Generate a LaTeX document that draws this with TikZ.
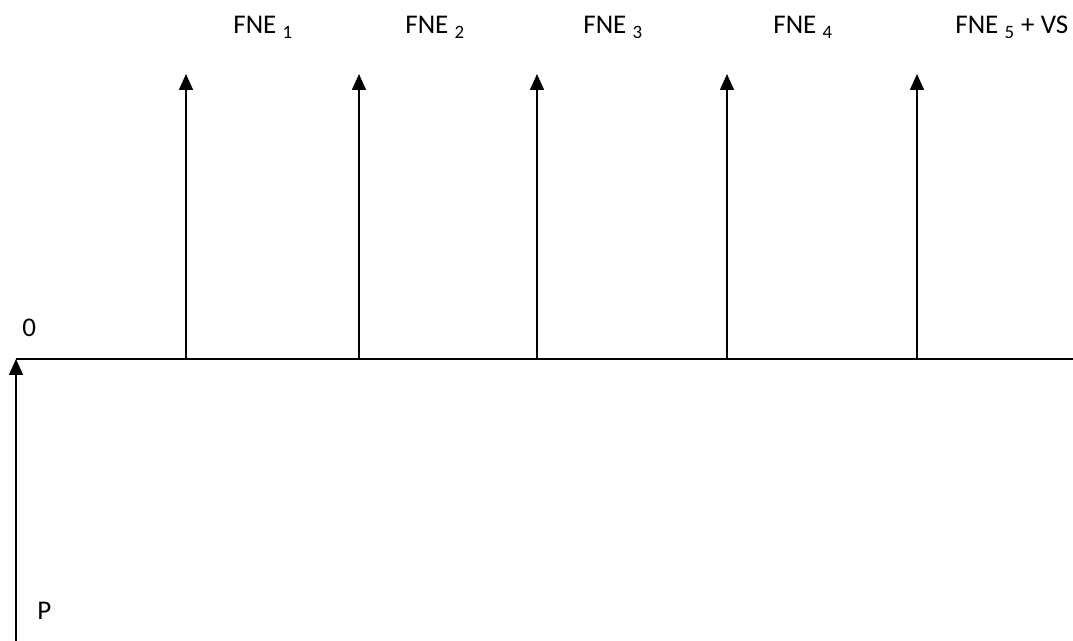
\documentclass[tikz,border=0pt]{standalone}
\usepackage{fontspec}
\setmainfont{Carlito}
\usetikzlibrary{arrows.meta}

\begin{document}
\begin{tikzpicture}[x=0.5pt, y=-0.5pt,
    flow/.style={draw, line width=0.75pt, -{Triangle[width=7pt,length=8pt]}},
    lbl/.style={anchor=base west, inner sep=0pt, font=\fontsize{13.5}{15}\selectfont}]
    \useasboundingbox (0,0) rectangle (1073,641);

    \coordinate (start) at (16,359);
    \coordinate (end) at (1073,359);
    \coordinate (p0) at (16,641);
    \coordinate (t1) at (186,359);
    \coordinate (t2) at (359,359);
    \coordinate (t3) at (537,359);
    \coordinate (t4) at (727,359);
    \coordinate (t5) at (917,359);
    \coordinate (f1) at (186,74);
    \coordinate (f2) at (359,74);
    \coordinate (f3) at (537,74);
    \coordinate (f4) at (727,74);
    \coordinate (f5) at (917,74);

    \node (fne1) [lbl] at (233,34) {FNE \textsubscript{1}};
    \node (fne2) [lbl] at (405,34) {FNE \textsubscript{2}};
    \node (fne3) [lbl] at (583,34) {FNE \textsubscript{3}};
    \node (fne4) [lbl] at (773,34) {FNE \textsubscript{4}};
    \node (fne5) [lbl] at (955,34) {FNE \textsubscript{5} + VS};
    \node (zero) [lbl] at (22,337) {0};
    \node (inv) [lbl] at (37,620) {P};

    \draw[line width=0.75pt] (start) -- (end);
    \draw[flow] (p0) -- (start);
    \draw[flow] (t1) -- (f1);
    \draw[flow] (t2) -- (f2);
    \draw[flow] (t3) -- (f3);
    \draw[flow] (t4) -- (f4);
    \draw[flow] (t5) -- (f5);
\end{tikzpicture}
\end{document}
